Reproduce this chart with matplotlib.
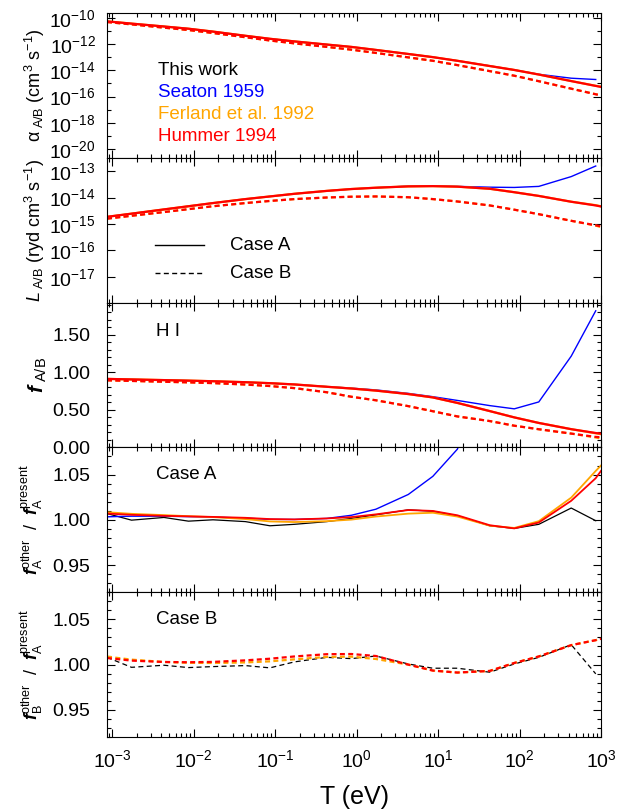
import numpy as np
import matplotlib
matplotlib.use('Agg')
import matplotlib.pyplot as plt
from matplotlib.lines import Line2D
from matplotlib.ticker import (FixedLocator, LogLocator, MultipleLocator,
                               FormatStrFormatter, NullLocator, NullFormatter)

plt.rcParams['font.family'] = ['Liberation Sans', 'DejaVu Sans']
plt.rcParams['mathtext.fontset'] = 'custom'
plt.rcParams['mathtext.rm'] = 'Liberation Sans'
plt.rcParams['mathtext.it'] = 'Liberation Sans:italic'
plt.rcParams['mathtext.bf'] = 'Liberation Sans:bold'
plt.rcParams['mathtext.bfit'] = 'Liberation Sans:italic:bold'
plt.rcParams['lines.scale_dashes'] = False

KB = 8.617e-5  # eV per K

# temperature grid (K); smooth curves get one more point at 1e3 eV
T_K = [10, 20, 50, 1e2, 2e2, 5e2, 1e3, 2e3, 5e3, 1e4, 2e4, 5e4, 1e5, 2e5,
       5e5, 1e6, 2e6, 5e6, 1e7]
T_END = 1e3

# --- panel 1: log10 alpha (cm^3 s^-1)
alphaA_hummer = [-10.26, -10.43, -10.65, -10.82, -11.04, -11.36, -11.59, -11.79, -12.03, -12.21,
                 -12.44, -12.75, -12.99, -13.27, -13.67, -13.97, -14.32, -14.82, -15.19, -15.27]
alphaA_ferland = [-10.26, -10.43, -10.65, -10.82, -11.04, -11.36, -11.59, -11.79, -12.03, -12.21,
                  -12.44, -12.75, -12.99, -13.27, -13.67, -13.97, -14.32, -14.82, -15.18, -15.24]
alphaA_seaton = [-10.26, -10.43, -10.65, -10.82, -11.04, -11.36, -11.59, -11.79, -12.03, -12.21,
                 -12.44, -12.75, -12.99, -13.27, -13.66, -13.97, -14.30, -14.60, -14.70]
alphaB_hummer = [-10.31, -10.49, -10.74, -10.92, -11.15, -11.47, -11.72, -11.94, -12.21, -12.42,
                 -12.67, -13.01, -13.27, -13.60, -14.06, -14.41, -14.83, -15.40, -15.83, -15.92]
alphaB_ferland = [-10.31, -10.49, -10.74, -10.92, -11.15, -11.47, -11.72, -11.94, -12.21, -12.42,
                  -12.67, -13.01, -13.27, -13.60, -14.06, -14.41, -14.83, -15.40, -15.82, -15.90]

# --- panel 2: log10 L (ryd cm^3 s^-1)
LA_hummer = [-14.73, -14.61, -14.45, -14.33, -14.21, -14.06, -13.96, -13.86, -13.75, -13.68,
             -13.63, -13.58, -13.57, -13.59, -13.67, -13.80, -13.94, -14.16, -14.30, -14.34]
LA_ferland = [-14.73, -14.61, -14.45, -14.33, -14.21, -14.06, -13.96, -13.86, -13.75, -13.68,
              -13.63, -13.58, -13.57, -13.59, -13.67, -13.80, -13.94, -14.16, -14.29, -14.33]
LA_seaton = [-14.73, -14.61, -14.45, -14.33, -14.21, -14.06, -13.96, -13.86, -13.75, -13.68,
             -13.63, -13.57, -13.56, -13.58, -13.61, -13.62, -13.58, -13.21, -12.81]
LB_hummer = [-14.80, -14.69, -14.55, -14.44, -14.33, -14.21, -14.13, -14.06, -14.00, -13.97,
             -13.96, -13.99, -14.06, -14.15, -14.30, -14.46, -14.63, -14.88, -15.05, -15.09]
LB_ferland = [-14.80, -14.69, -14.55, -14.44, -14.33, -14.21, -14.13, -14.06, -14.00, -13.97,
              -13.96, -13.99, -14.06, -14.15, -14.30, -14.46, -14.63, -14.88, -15.06, -15.12]

# --- panel 3: f_A/B
fA_hummer = [0.913, 0.906, 0.897, 0.890, 0.882, 0.869, 0.856, 0.839, 0.808, 0.785,
             0.757, 0.711, 0.666, 0.593, 0.484, 0.400, 0.326, 0.243, 0.192, 0.183]
fA_ferland = [0.913, 0.906, 0.897, 0.890, 0.882, 0.869, 0.856, 0.839, 0.808, 0.785,
              0.757, 0.711, 0.666, 0.593, 0.484, 0.400, 0.326, 0.243, 0.188, 0.176]
fA_seaton = [0.913, 0.906, 0.897, 0.890, 0.882, 0.869, 0.856, 0.840, 0.810, 0.790,
             0.766, 0.720, 0.676, 0.626, 0.557, 0.514, 0.606, 1.216, 1.821]
fB_hummer = [0.894, 0.886, 0.875, 0.867, 0.857, 0.838, 0.818, 0.790, 0.735, 0.675,
             0.628, 0.550, 0.482, 0.413, 0.351, 0.289, 0.242, 0.184, 0.140, 0.135]
fB_ferland = [0.894, 0.886, 0.875, 0.867, 0.857, 0.838, 0.818, 0.790, 0.735, 0.675,
              0.628, 0.550, 0.482, 0.413, 0.351, 0.289, 0.242, 0.184, 0.132, 0.118]

# --- panel 4: f_A(other) / f_A(present)
ratioA_this = [1.0069, 0.9996, 1.0026, 0.9985, 1.0000, 0.9980, 0.9934, 0.9950, 0.9980, 1.0015,
               1.0055, 1.0110, 1.0095, 1.0045, 0.9934, 0.9905, 0.9950, 1.0130, 0.9990]
ratioA_seaton = [1.0033, 1.0040, 1.0040, 1.0035, 1.0030, 1.0018, 1.0005, 1.0004, 1.0015, 1.0050,
                 1.0117, 1.0280, 1.0480, 1.0780, 1.16, 1.27, 1.76, 4.9, 9.6]
ratioA_ferland = [1.0084, 1.0066, 1.0052, 1.0040, 1.0030, 1.0008, 0.9982, 0.9975, 0.9985, 1.0002,
                  1.0036, 1.0068, 1.0078, 1.0036, 0.9935, 0.9910, 0.9985, 1.0245, 1.0540, 1.0600]
ratioA_hummer = [1.0069, 1.0055, 1.0044, 1.0038, 1.0032, 1.0022, 1.0008, 1.0004, 1.0015, 1.0030,
                 1.0060, 1.0108, 1.0098, 1.0050, 0.9940, 0.9905, 0.9970, 1.0210, 1.0460, 1.0540]

# --- panel 5: f_B(other) / f_A(present)
ratioB_this = [1.0080, 0.9970, 0.9993, 0.9967, 0.9978, 0.9989, 0.9964, 1.0030, 1.0080, 1.0066,
               1.0095, 1.0007, 0.9960, 0.9960, 0.9916, 1.0007, 1.0080, 1.0220, 0.9898]
ratioB_ferland = [1.0088, 1.0055, 1.0029, 1.0020, 1.0018, 1.0024, 1.0036, 1.0058, 1.0085, 1.0088,
                  1.0062, 1.0000, 0.9934, 0.9912, 0.9930, 1.0018, 1.0090, 1.0215, 1.0270, 1.0285]
ratioB_hummer = [1.0073, 1.0044, 1.0029, 1.0026, 1.0030, 1.0047, 1.0065, 1.0090, 1.0115, 1.0117,
                 1.0095, 1.0000, 0.9934, 0.9912, 0.9930, 1.0018, 1.0090, 1.0215, 1.0270, 1.0285]

t19 = np.array(T_K) * KB
t20 = np.append(t19, T_END)

BLUE, ORANGE, RED = '#0000ff', '#ffa500', '#ff0000'
DASH = (0, (3.6, 2.4))
LW = 1.6

fig, axes = plt.subplots(5, 1, sharex=True, figsize=(6.43, 8.11), dpi=100)
fig.subplots_adjust(left=107/643, right=601/643, top=1-13/811, bottom=1-737/811, hspace=0)

for ax in axes:
    ax.set_xscale('log')
    ax.set_xlim(10*KB, 1e3)
    ax.tick_params(which='both', direction='in', top=True, right=True,
                   labelsize=14, width=0.8)
    ax.tick_params(which='major', length=6)
    ax.tick_params(which='minor', length=3)
    ax.xaxis.set_major_locator(LogLocator(base=10, numticks=20))
    ax.xaxis.set_minor_locator(LogLocator(base=10, subs=np.arange(2, 10), numticks=20))
    ax.xaxis.set_minor_formatter(NullFormatter())
    for s in ax.spines.values():
        s.set_linewidth(0.8)

# panel 1
ax = axes[0]
ax.set_yscale('log')
ax.plot(t19, 10**np.array(alphaA_seaton), color=BLUE, lw=1.0)
ax.plot(t20, 10**np.array(alphaA_ferland), color=ORANGE, lw=LW)
ax.plot(t20, 10**np.array(alphaB_ferland), color=ORANGE, lw=LW, ls=DASH)
ax.plot(t20, 10**np.array(alphaA_hummer), color=RED, lw=LW)
ax.plot(t20, 10**np.array(alphaB_hummer), color=RED, lw=LW, ls=DASH)
ax.set_ylim(10**-20.68, 10**-9.62)
ax.yaxis.set_major_locator(FixedLocator([10.0**e for e in range(-20, -9, 2)]))
ax.yaxis.set_minor_locator(FixedLocator([10.0**e for e in range(-21, -9, 2)]))
ax.yaxis.set_minor_formatter(NullFormatter())
ax.tick_params(axis='y', pad=8)
ax.set_ylabel(r'α$_{\ \rm A/B}$ (cm$^3$ s$^{-1}$)', fontsize=13)
ax.yaxis.set_label_coords(-0.122, 0.5)
tr = ax.get_xaxis_transform()
for lab, col, yy in [('This work', 'black', 0.606), ('Seaton 1959', BLUE, 0.454),
                     ('Ferland et al. 1992', ORANGE, 0.302), ('Hummer 1994', RED, 0.150)]:
    ax.text(10**-2.44, yy, lab, color=col, fontsize=13.5, va='center', transform=tr)

# panel 2
ax = axes[1]
ax.set_yscale('log')
ax.plot(t19, 10**np.array(LA_seaton), color=BLUE, lw=1.0)
ax.plot(t20, 10**np.array(LA_ferland), color=ORANGE, lw=LW)
ax.plot(t20, 10**np.array(LB_ferland), color=ORANGE, lw=LW, ls=DASH)
ax.plot(t20, 10**np.array(LA_hummer), color=RED, lw=LW)
ax.plot(t20, 10**np.array(LB_hummer), color=RED, lw=LW, ls=DASH)
ax.set_ylim(10**-17.97, 10**-12.5)
ax.yaxis.set_major_locator(FixedLocator([10.0**e for e in range(-17, -12)]))
ax.yaxis.set_minor_locator(NullLocator())
ax.tick_params(axis='y', pad=8)
ax.set_ylabel(r'$L_{\ \rm A/B}$ (ryd cm$^3$ s$^{-1}$)', fontsize=13)
ax.yaxis.set_label_coords(-0.122, 0.5)
tr = ax.get_xaxis_transform()
for lab, ls, yy in [('Case A', '-', 0.395), ('Case B', DASH, 0.203)]:
    ax.add_line(Line2D([10**-2.47, 10**-1.87], [yy, yy], color='black', lw=1.0,
                       ls=ls, transform=tr))
    ax.text(10**-1.55, yy, lab, fontsize=13.5, va='center', transform=tr)

# panel 3
ax = axes[2]
ax.plot(t19, fA_seaton, color=BLUE, lw=1.0)
ax.plot(t20, fA_ferland, color=ORANGE, lw=LW)
ax.plot(t20, fB_ferland, color=ORANGE, lw=LW, ls=DASH)
ax.plot(t20, fA_hummer, color=RED, lw=LW)
ax.plot(t20, fB_hummer, color=RED, lw=LW, ls=DASH)
ax.set_ylim(0, 1.93)
ax.yaxis.set_major_locator(MultipleLocator(0.5))
ax.yaxis.set_minor_locator(MultipleLocator(0.1))
ax.yaxis.set_major_formatter(FormatStrFormatter('%.2f'))
ax.tick_params(axis='y', pad=12)
ax.set_ylabel(r'$\mathbfit{f}_{\ \rm A/B}$', fontsize=15)
ax.yaxis.set_label_coords(-0.118, 0.5)
ax.text(10**-2.46, 0.80, 'H I', fontsize=13.5, va='center', transform=ax.get_xaxis_transform())

# panel 4
ax = axes[3]
ax.plot(t19, ratioA_this, color='black', lw=0.9)
ax.plot(t19, ratioA_seaton, color=BLUE, lw=1.0)
ax.plot(t20, ratioA_ferland, color=ORANGE, lw=1.3)
ax.plot(t20, ratioA_hummer, color=RED, lw=1.3)
ax.set_ylim(0.92, 1.08)
ax.set_ylabel(r'$\mathbfit{f}_{\rm A}^{\rm other}\ \ /\ \ \mathbfit{f}_{\rm A}^{\rm present}$', fontsize=13)
ax.text(10**-2.46, 0.81, 'Case A', fontsize=13.5, va='center', transform=ax.get_xaxis_transform())

# panel 5
ax = axes[4]
ax.plot(t19, ratioB_this, color='black', lw=0.9, ls=DASH)
ax.plot(t20, ratioB_ferland, color=ORANGE, lw=LW, ls=DASH)
ax.plot(t20, ratioB_hummer, color=RED, lw=LW, ls=DASH)
ax.set_ylim(0.92, 1.08)
ax.set_ylabel(r'$\mathbfit{f}_{\rm B}^{\rm other}\ \ /\ \ \mathbfit{f}_{\rm A}^{\rm present}$', fontsize=13)
ax.text(10**-2.46, 0.81, 'Case B', fontsize=13.5, va='center', transform=ax.get_xaxis_transform())
ax.set_xlabel('T (eV)', fontsize=18, labelpad=10)
ax.tick_params(axis='x', pad=9)

for ax in axes[3:]:
    ax.yaxis.set_major_locator(MultipleLocator(0.05))
    ax.yaxis.set_minor_locator(MultipleLocator(0.01))
    ax.yaxis.set_major_formatter(FormatStrFormatter('%.2f'))
    ax.tick_params(axis='y', pad=12)
    ax.yaxis.set_label_coords(-0.126, 0.5)

fig.savefig('out.png', dpi=100)
